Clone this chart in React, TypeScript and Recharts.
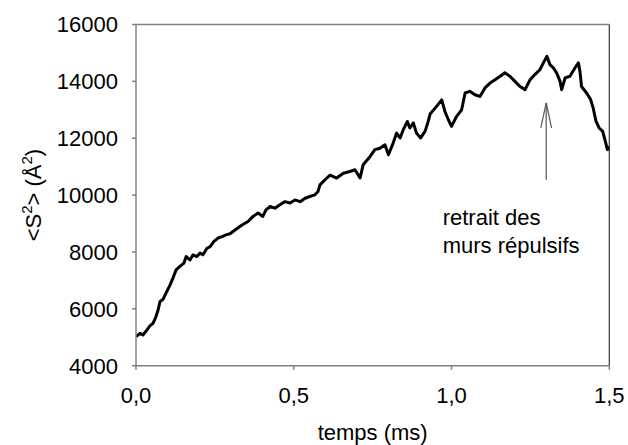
import React from 'react';
import { LineChart, Line, XAxis, YAxis, ReferenceLine, ReferenceDot, Label } from 'recharts';

// time (ms)
const times = [
  0.000, 0.013, 0.022, 0.035, 0.044, 0.054, 0.063, 0.070, 0.076, 0.086,
  0.095, 0.108, 0.117, 0.127, 0.139, 0.152, 0.159, 0.171, 0.181, 0.193,
  0.203, 0.212, 0.225, 0.235, 0.247, 0.260, 0.273, 0.285, 0.298, 0.317,
  0.336, 0.355, 0.371, 0.387, 0.402, 0.412, 0.425, 0.440, 0.456, 0.472,
  0.488, 0.504, 0.520, 0.536, 0.551, 0.567, 0.577, 0.583, 0.599, 0.615,
  0.636, 0.657, 0.678, 0.694, 0.710, 0.720, 0.742, 0.757, 0.773, 0.789,
  0.800, 0.815, 0.826, 0.837, 0.847, 0.860, 0.868, 0.879, 0.889, 0.902,
  0.916, 0.926, 0.932, 0.948, 0.969, 0.979, 0.990, 1.000, 1.016, 1.032,
  1.043, 1.058, 1.074, 1.090, 1.106, 1.122, 1.138, 1.154, 1.169, 1.185,
  1.201, 1.217, 1.233, 1.249, 1.264, 1.280, 1.291, 1.302, 1.312, 1.323,
  1.333, 1.344, 1.349, 1.360, 1.375, 1.391, 1.402, 1.407, 1.412, 1.428,
  1.441, 1.449, 1.458, 1.468, 1.479, 1.486, 1.494, 1.500,
];

// <S^2> (Å^2)
const s2Values = [
  5020, 5140, 5080, 5260, 5400, 5490, 5720, 5960, 6250, 6340,
  6550, 6840, 7080, 7370, 7490, 7610, 7840, 7720, 7900, 7840,
  7960, 7900, 8130, 8190, 8370, 8490, 8540, 8600, 8640, 8800,
  8950, 9070, 9250, 9370, 9250, 9480, 9600, 9540, 9660, 9770,
  9720, 9830, 9770, 9890, 9950, 10010, 10130, 10360, 10540, 10700,
  10600, 10770, 10830, 10890, 10600, 11070, 11360, 11600, 11650, 11770,
  11420, 11830, 12180, 12010, 12300, 12590, 12360, 12540, 12180, 12010,
  12240, 12590, 12850, 13060, 13350, 12940, 12650, 12420, 12770, 13000,
  13590, 13650, 13530, 13470, 13770, 13940, 14060, 14180, 14300, 14180,
  14000, 13820, 13710, 14060, 14240, 14410, 14650, 14880, 14590, 14470,
  14300, 14000, 13710, 14120, 14180, 14470, 14650, 14350, 13820, 13590,
  13360, 13060, 12590, 12360, 12240, 11950, 11600, 11710,
];

const xTicks = [0, 0.5, 1.0, 1.5];
const yTicks = [4000, 6000, 8000, 10000, 12000, 14000, 16000];

// annotation (data coordinates)
const arrowX = 1.3;
const arrowBase = 10540;
const arrowTip = 13240;
const arrowHeadY = 12360;
const arrowHeadDx = 0.017;
const noteT = 0.972;
const noteV = 8950;
const noteLines = ['retrait des', 'murs répulsifs'];

const data = times.map((t, i) => ({ t, s2: s2Values[i] }));

const FONT = 'Arial, "Liberation Sans", sans-serif';
const AXIS = '#808080';

const fmt = (v: number) => v.toFixed(1).replace('.', ',');

const YLabel = (props: any) => {
  const vb = props.viewBox || {};
  const x = 41.5;
  const y = (vb.y ?? 24.5) + (vb.height ?? 341) / 2;
  return (
    <text
      x={x}
      y={y}
      transform={`rotate(-90, ${x}, ${y})`}
      textAnchor="middle"
      fontFamily={FONT}
      fontSize={22}
      fill="#000"
    >
      <tspan>{'<S'}</tspan>
      <tspan fontSize={15} dy={-9}>2</tspan>
      <tspan dy={9}>{'> (Å'}</tspan>
      <tspan fontSize={15} dy={-9}>2</tspan>
      <tspan dy={9}>)</tspan>
    </text>
  );
};

const XLabel = (props: any) => {
  const vb = props.viewBox || {};
  const x = (vb.x ?? 136) + (vb.width ?? 473) / 2;
  const y = 440;
  return (
    <text x={x} y={y} textAnchor="middle" fontFamily={FONT} fontSize={22} fill="#000">
      temps (ms)
    </text>
  );
};

const Note = (props: any) => {
  const { cx, cy } = props;
  return (
    <text x={cx} y={cy} fontFamily={FONT} fontSize={22} fill="#000">
      <tspan x={cx} dy={0}>{noteLines[0]}</tspan>
      <tspan x={cx} dy={28}>{noteLines[1]}</tspan>
    </text>
  );
};

export default function App() {
  return (
    <div style={{ position: 'absolute', left: 0, top: 0, background: '#fff' }}>
      <LineChart
        width={628}
        height={445}
        data={data}
        margin={{ top: 24.5, right: 18.7, bottom: 39.3, left: 36 }}
      >
        <XAxis
          dataKey="t"
          type="number"
          domain={[0, 1.5]}
          ticks={xTicks}
          tickFormatter={fmt}
          height={40}
          tickSize={4}
          tickMargin={18}
          axisLine={{ stroke: AXIS, strokeWidth: 1.5 }}
          tickLine={{ stroke: AXIS, strokeWidth: 1.5 }}
          tick={{ fill: '#000', fontSize: 22, fontFamily: FONT }}
          allowDataOverflow
          label={<Label content={<XLabel />} />}
        />
        <YAxis
          type="number"
          domain={[4000, 16000]}
          ticks={yTicks}
          width={100}
          tickSize={4}
          tickMargin={14}
          axisLine={{ stroke: AXIS, strokeWidth: 1.5 }}
          tickLine={{ stroke: AXIS, strokeWidth: 1.5 }}
          tick={{ fill: '#000', fontSize: 22, fontFamily: FONT }}
          allowDataOverflow
          label={<Label content={<YLabel />} />}
        />
        <ReferenceLine y={16000} stroke={AXIS} strokeWidth={1.5} />
        <ReferenceLine x={1.5} stroke="#333" strokeWidth={1.2} />
        <ReferenceLine
          segment={[{ x: arrowX, y: arrowBase }, { x: arrowX, y: arrowTip }]}
          stroke="#555"
          strokeWidth={1.2}
        />
        <ReferenceLine
          segment={[{ x: arrowX - arrowHeadDx, y: arrowHeadY }, { x: arrowX, y: arrowTip }]}
          stroke="#555"
          strokeWidth={1.2}
        />
        <ReferenceLine
          segment={[{ x: arrowX + arrowHeadDx, y: arrowHeadY }, { x: arrowX, y: arrowTip }]}
          stroke="#555"
          strokeWidth={1.2}
        />
        <ReferenceDot x={noteT} y={noteV} r={0} shape={(p: any) => <Note {...p} />} />
        <Line
          type="linear"
          dataKey="s2"
          stroke="#000"
          strokeWidth={3}
          strokeLinejoin="round"
          dot={false}
          isAnimationActive={false}
        />
      </LineChart>
    </div>
  );
}
